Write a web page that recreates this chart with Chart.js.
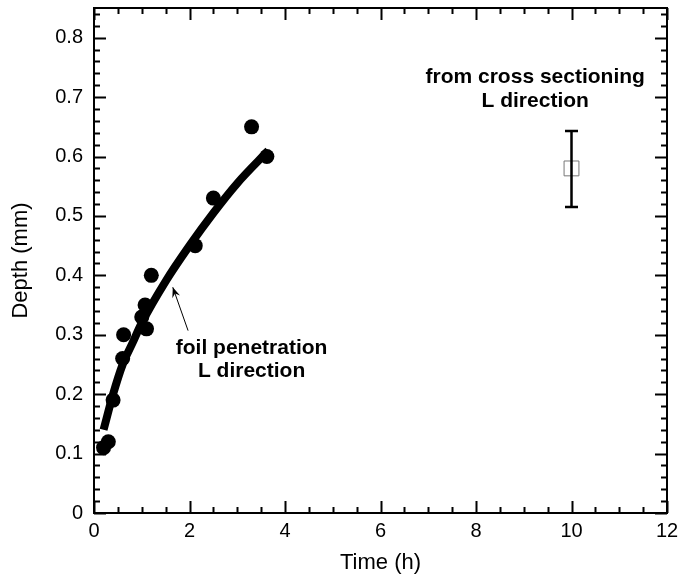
<!DOCTYPE html>
<html>
<head>
<meta charset="utf-8">
<script src="https://cdn.jsdelivr.net/npm/chart.js@4/dist/chart.umd.min.js"></script>
<style>
html,body{margin:0;padding:0;background:#fff;}
#wrap{width:683px;height:579px;position:relative;}
</style>
</head>
<body>
<div id="wrap"><canvas id="c" width="683" height="579"></canvas></div>
<script>
// ---- data ----
const foilTime  = [0.2, 0.3, 0.4, 0.6, 0.62, 1.0, 1.07, 1.1, 1.2, 2.12, 2.5, 3.3, 3.62];
const foilDepth = [0.11, 0.12, 0.19, 0.26, 0.30, 0.33, 0.35, 0.31, 0.40, 0.45, 0.53, 0.65, 0.60];

const fitTime  = [0.2, 0.4, 0.6, 0.8, 1.0, 1.5, 2.0, 2.5, 3.0, 3.65];
const fitDepth = [0.14, 0.20, 0.25, 0.285, 0.32, 0.39, 0.45, 0.505, 0.555, 0.61];

const crossTime  = [10];
const crossDepth = [0.58];
const crossLow   = [0.515];
const crossHigh  = [0.643];

const xTicks = [0, 2, 4, 6, 8, 10, 12];
const xTickLabels = ['0', '2', '4', '6', '8', '10', '12'];
const yTicks = [0, 0.1, 0.2, 0.3, 0.4, 0.5, 0.6, 0.7, 0.8];
const yTickLabels = ['0', '0.1', '0.2', '0.3', '0.4', '0.5', '0.6', '0.7', '0.8'];
const xMinorStep = 0.5;
const yMinorStep = 0.02;

const xTitle = 'Time (h)';
const yTitle = 'Depth (mm)';
const foilLabel  = ['foil penetration', 'L direction'];
const crossLabel = ['from cross sectioning', 'L direction'];

const FONT = '"Liberation Sans", Arial, Helvetica, sans-serif';

const toXY = (xs, ys) => xs.map((x, i) => ({x: x, y: ys[i]}));
const noPad = s => { s.getPadding = () => ({ left: 0, top: 0, right: 0, bottom: 0 }); };

const decor = {
  id: 'decor',
  afterDatasetsDraw(chart) {
    const ctx = chart.ctx, xs = chart.scales.x, ys = chart.scales.y;
    ctx.save();
    ctx.strokeStyle = '#000';
    ctx.lineWidth = 2.5;
    crossTime.forEach((t, i) => {
      const px = xs.getPixelForValue(t);
      const pl = ys.getPixelForValue(crossLow[i]);
      const ph = ys.getPixelForValue(crossHigh[i]);
      ctx.beginPath();
      ctx.moveTo(px, pl); ctx.lineTo(px, ph);
      ctx.moveTo(px - 6.5, pl); ctx.lineTo(px + 6.5, pl);
      ctx.moveTo(px - 6.5, ph); ctx.lineTo(px + 6.5, ph);
      ctx.stroke();
    });
    ctx.restore();
  },
  afterDraw(chart) {
    const ctx = chart.ctx, xs = chart.scales.x, ys = chart.scales.y;
    const a = chart.chartArea;
    ctx.save();
    ctx.strokeStyle = '#000';
    ctx.lineWidth = 2;
    ctx.strokeRect(a.left, a.top, a.right - a.left, a.bottom - a.top);
    const near = (v, arr) => arr.some(t => Math.abs(t - v) < 1e-6);
    ctx.beginPath();
    for (let k = 0; k * xMinorStep <= xs.max + 1e-9; k++) {
      const v = k * xMinorStep;
      const px = Math.round(xs.getPixelForValue(v)) + 0.5;
      const len = near(v, xTicks) ? 12 : 6;
      ctx.moveTo(px, a.bottom); ctx.lineTo(px, a.bottom - len);
      ctx.moveTo(px, a.top); ctx.lineTo(px, a.top + len);
    }
    for (let k = 0; k * yMinorStep <= ys.max + 1e-9; k++) {
      const v = k * yMinorStep;
      const py = Math.round(ys.getPixelForValue(v)) + 0.5;
      const len = near(v, yTicks) ? 12 : 6;
      ctx.moveTo(a.left, py); ctx.lineTo(a.left + len, py);
      ctx.moveTo(a.right, py); ctx.lineTo(a.right - len, py);
    }
    ctx.stroke();

    ctx.fillStyle = '#000';
    ctx.font = 'bold 21px ' + FONT;
    ctx.textAlign = 'center';
    ctx.textBaseline = 'middle';
    const fx = xs.getPixelForValue(3.3), fy = ys.getPixelForValue(0.277);
    ctx.fillText(foilLabel[0], fx, fy);
    ctx.fillText(foilLabel[1], fx, fy + 23);
    const cx = xs.getPixelForValue(9.24), cy = ys.getPixelForValue(0.733);
    ctx.fillText(crossLabel[0], cx, cy);
    ctx.fillText(crossLabel[1], cx, cy + 24);

    const tx = xs.getPixelForValue(1.65), ty = ys.getPixelForValue(0.38);
    const sx = xs.getPixelForValue(1.97), sy = ys.getPixelForValue(0.307);
    ctx.lineWidth = 1;
    ctx.beginPath();
    ctx.moveTo(sx, sy); ctx.lineTo(tx, ty);
    ctx.stroke();
    const ang = Math.atan2(ty - sy, tx - sx);
    const hl = 11, hw = 0.38;
    ctx.beginPath();
    ctx.moveTo(tx, ty);
    ctx.lineTo(tx - hl * Math.cos(ang - hw), ty - hl * Math.sin(ang - hw));
    ctx.lineTo(tx - hl * 0.6 * Math.cos(ang), ty - hl * 0.6 * Math.sin(ang));
    ctx.lineTo(tx - hl * Math.cos(ang + hw), ty - hl * Math.sin(ang + hw));
    ctx.closePath();
    ctx.fill();
    ctx.restore();
  }
};

new Chart(document.getElementById('c'), {
  type: 'scatter',
  data: {
    datasets: [
      {
        label: 'fit',
        data: toXY(fitTime, fitDepth),
        showLine: true,
        borderColor: '#000',
        borderWidth: 8,
        pointRadius: 0,
        cubicInterpolationMode: 'monotone',
        borderCapStyle: 'butt',
        order: 2
      },
      {
        label: 'foil',
        data: toXY(foilTime, foilDepth),
        backgroundColor: '#000',
        borderColor: '#000',
        pointRadius: 7.5,
        borderWidth: 0,
        order: 1
      },
      {
        label: 'cross',
        data: toXY(crossTime, crossDepth),
        pointStyle: 'rect',
        pointRadius: 10.5,
        backgroundColor: 'rgba(0,0,0,0)',
        borderColor: '#777',
        borderWidth: 1,
        order: 0
      }
    ]
  },
  options: {
    responsive: false,
    animation: false,
    devicePixelRatio: 1,
    layout: { autoPadding: false, padding: { top: 8, right: 16, left: 0, bottom: 0 } },
    plugins: { legend: { display: false }, tooltip: { enabled: false } },
    scales: {
      x: {
        type: 'linear',
        min: 0, max: 12,
        grid: { display: false, drawTicks: false },
        border: { display: false },
        afterBuildTicks: s => { s.ticks = xTicks.map(v => ({ value: v })); },
        afterFit: s => { s.height = 66; s.paddingLeft = 0; s.paddingRight = 0; noPad(s); },
        ticks: {
          color: '#000',
          font: { family: FONT, size: 20 },
          padding: 6,
          maxRotation: 0,
          autoSkip: false,
          callback: (v) => xTickLabels[xTicks.indexOf(v)]
        },
        title: {
          display: true, text: xTitle, color: '#000',
          font: { family: FONT, size: 22 },
          padding: { top: 0, bottom: 3 }
        }
      },
      y: {
        type: 'linear',
        min: 0, max: 0.85,
        grid: { display: false, drawTicks: false },
        border: { display: false },
        afterBuildTicks: s => { s.ticks = yTicks.map(v => ({ value: v })); },
        afterFit: s => { s.width = 94; s.paddingTop = 0; s.paddingBottom = 0; noPad(s); },
        ticks: {
          color: '#000',
          font: { family: FONT, size: 20 },
          padding: 11,
          autoSkip: false,
          callback: (v) => yTickLabels[yTicks.indexOf(v)]
        },
        title: {
          display: true, text: yTitle, color: '#000',
          font: { family: FONT, size: 22 },
          padding: { top: 8, bottom: 0 }
        }
      }
    }
  },
  plugins: [decor]
});
</script>
</body>
</html>
